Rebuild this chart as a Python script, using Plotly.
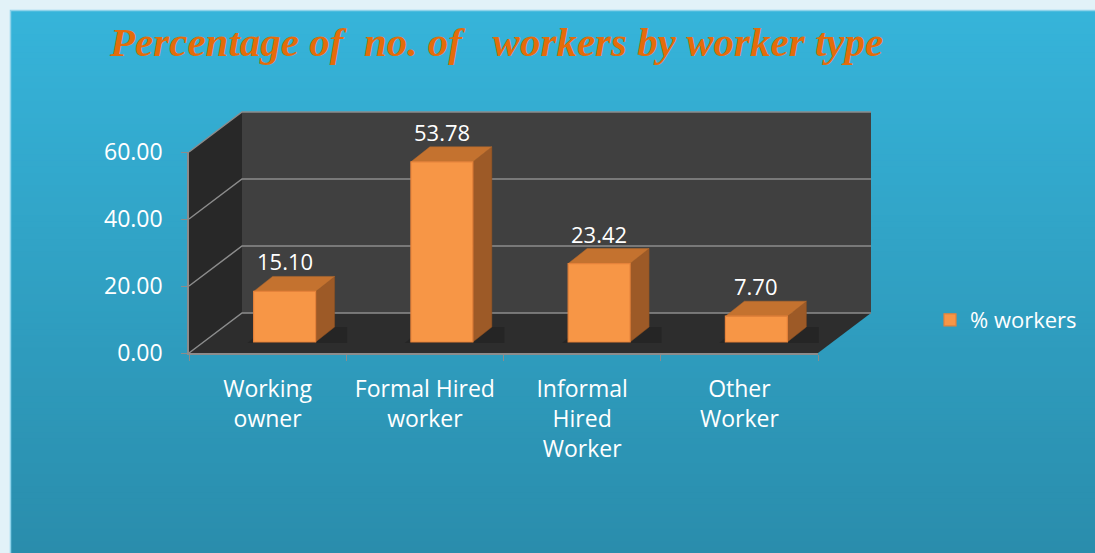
import plotly.graph_objects as go

# ---------------- data ----------------
categories = ["Working owner", "Formal Hired worker", "Informal Hired Worker", "Other Worker"]
tick_labels = ["Working<br>owner", "Formal Hired<br>worker", "Informal<br>Hired<br>Worker", "Other<br>Worker"]
values = [15.10, 53.78, 23.42, 7.70]
y_ticks = [0, 20, 40, 60]
series_name = "% workers"
title_text = "Percentage of\u00a0 no. of\u00a0\u00a0 workers by worker type"

# ---------------- geometry (pixels) ----------------
W, H = 1095, 553


def fx(px):
    return px / W


def fy(py):
    return 1 - py / H


FX0, FX1 = 189, 818          # front plane x extent
FY0, FYT = 353, 152          # front plane: y pixel of 0 and of y_max
Y_MAX = 60
DEPTH = (53, -40)            # back wall offset
BAR_SHIFT = (17, -11)        # bars sit a little behind the front plane
BAR_D = (19, 15)             # bar depth (px)
BAR_W = 0.394

n = len(categories)
cat_px = (FX1 - FX0) / n
val_px = (FY0 - FYT) / Y_MAX

ORANGE = "#F79646"
TOP_C = "#C4722F"
SIDE_C = "#9D5A27"
GRID = "#8C8C8C"
FONT = "Open Sans"

shapes = []

# background gradient (stacked strips, each reaching the bottom so no seams show)
N = 90
top_rgb = (54, 180, 218)
bot_rgb = (42, 141, 172)
y_start = 10
for k in range(N):
    t = k / (N - 1)
    c = tuple(int(round(a + (b - a) * t)) for a, b in zip(top_rgb, bot_rgb))
    y0 = y_start + k * (H - y_start) / N
    shapes.append(dict(type="rect", xref="paper", yref="paper", layer="below",
                       x0=fx(10), x1=1.0, y0=0, y1=fy(y0),
                       fillcolor="rgb(%d,%d,%d)" % c, line=dict(width=0)))
# light edge of chart area
shapes.append(dict(type="path", xref="paper", yref="paper", layer="below",
                   path="M %f,%f L %f,%f L %f,%f" % (fx(10.5), 0, fx(10.5), fy(10.5), 1, fy(10.5)),
                   line=dict(color="#8FD3EA", width=1.5)))


def ppath(pts, close=True):
    s = "M " + " L ".join("%f,%f" % (fx(x), fy(y)) for x, y in pts)
    return s + (" Z" if close else "")


bx0, bx1 = FX0 + DEPTH[0], FX1 + DEPTH[0]
by0, byT = FY0 + DEPTH[1], FYT + DEPTH[1]
# back wall
shapes.append(dict(type="path", xref="paper", yref="paper", layer="below",
                   path=ppath([(bx0, by0), (bx1, by0), (bx1, byT), (bx0, byT)]),
                   fillcolor="#404040", line=dict(width=0)))
# left wall
shapes.append(dict(type="path", xref="paper", yref="paper", layer="below",
                   path=ppath([(FX0, FY0), (FX0, FYT), (bx0, byT), (bx0, by0)]),
                   fillcolor="#282828", line=dict(width=0)))
# floor
shapes.append(dict(type="path", xref="paper", yref="paper", layer="below",
                   path=ppath([(FX0, FY0), (FX1, FY0), (bx1, by0), (bx0, by0)]),
                   fillcolor="#2D2D2D", line=dict(width=0)))
# gridlines on walls
for v in y_ticks:
    yf = FY0 - v * val_px
    yb = yf + DEPTH[1]
    shapes.append(dict(type="path", xref="paper", yref="paper", layer="below",
                       path=ppath([(FX0, yf), (bx0, yb), (bx1, yb)], close=False),
                       line=dict(color=GRID, width=1.5)))

# bar 3D faces (in bar-axis data units)
dx = BAR_D[0] / cat_px
dy = BAR_D[1] / val_px


def dpath(pts):
    return "M " + " L ".join("%f,%f" % p for p in pts) + " Z"


for i, v in enumerate(values):
    xl, xr = i - BAR_W / 2, i + BAR_W / 2
    shapes.append(dict(type="path", xref="x2", yref="y2", layer="below",
                       path=dpath([(xl - 0.04, -0.3), (xr + dx + 0.08, -0.3),
                                   (xr + dx + 0.08, dy), (xl + dx - 0.04, dy)]),
                       fillcolor="rgba(0,0,0,0.16)", line=dict(width=0)))
    shapes.append(dict(type="path", xref="x2", yref="y2", layer="below",
                       path=dpath([(xr, 0), (xr + dx, dy), (xr + dx, v + dy), (xr, v)]),
                       fillcolor=SIDE_C, line=dict(color="#8E5020", width=0.5)))
    shapes.append(dict(type="path", xref="x2", yref="y2", layer="below",
                       path=dpath([(xl, v), (xr, v), (xr + dx, v + dy), (xl + dx, v + dy)]),
                       fillcolor=TOP_C, line=dict(color="#B76A2C", width=0.5)))

fig = go.Figure()

# invisible trace to anchor the front axes
fig.add_trace(go.Scatter(x=categories, y=values, xaxis="x", yaxis="y", mode="markers",
                         marker=dict(opacity=0), showlegend=False, hoverinfo="skip"))

fig.add_trace(go.Bar(x=categories, y=values, xaxis="x2", yaxis="y2", name=series_name,
                     width=BAR_W, marker=dict(color=ORANGE, line=dict(color="#E5823A", width=1.2)),
                     showlegend=True))

annotations = []
for i, v in enumerate(values):
    annotations.append(dict(xref="x2", yref="y2", x=i, y=v, yanchor="bottom", yshift=13,
                            text="%.2f" % v, showarrow=False,
                            font=dict(family=FONT, size=22, color="white")))
annotations.append(dict(xref="paper", yref="paper", x=fx(107), y=fy(42), xanchor="left", yanchor="middle",
                        text=title_text, showarrow=False,
                        font=dict(family="Liberation Serif", size=41, color="#E46C0A",
                                  weight="bold", style="italic")))

x2_lo = -0.5 - BAR_SHIFT[0] / cat_px
y2_lo = BAR_SHIFT[1] / val_px

fig.update_layout(
    width=W, height=H,
    autosize=False,
    margin=dict(l=0, r=0, t=0, b=0, pad=0, autoexpand=False),
    paper_bgcolor="#E2F2F8",
    plot_bgcolor="rgba(0,0,0,0)",
    shapes=shapes,
    annotations=annotations,
    showlegend=True,
    legend=dict(xref="container", yref="container", x=fx(930), y=fy(320),
                xanchor="left", yanchor="middle",
                bgcolor="rgba(0,0,0,0)", font=dict(family=FONT, size=22, color="white")),
    xaxis=dict(domain=[fx(FX0), fx(FX1)], anchor="y", type="category", range=[-0.5, n - 0.5],
               tickvals=categories, ticktext=tick_labels, tickson="boundaries", automargin=False,
               ticks="outside", ticklen=6, tickcolor=GRID, showline=True, linecolor=GRID, linewidth=1.5,
               showgrid=False, zeroline=False, tickfont=dict(family=FONT, size=23, color="white"),
               ticklabelstandoff=15, fixedrange=True),
    yaxis=dict(domain=[fy(FY0), fy(FYT)], anchor="x", range=[0, Y_MAX], tickvals=y_ticks,
               tickformat=".2f", ticks="outside", ticklen=6, tickcolor=GRID, showline=True,
               linecolor=GRID, linewidth=1.5, showgrid=False, zeroline=False, automargin=False,
               tickfont=dict(family=FONT, size=23, color="white"), ticklabelstandoff=14,
               fixedrange=True),
    xaxis2=dict(domain=[fx(FX0), fx(FX1 + BAR_SHIFT[0])], anchor="y2", type="category",
                range=[x2_lo, n - 0.5], visible=False, fixedrange=True, automargin=False),
    yaxis2=dict(domain=[fy(FY0), fy(FYT + BAR_SHIFT[1])], anchor="x2",
                range=[y2_lo, Y_MAX], visible=False, fixedrange=True, automargin=False),
)

fig.write_html("out.html", config={"displayModeBar": False},
               post_script="document.body.style.margin='0';document.body.style.overflow='hidden';")
